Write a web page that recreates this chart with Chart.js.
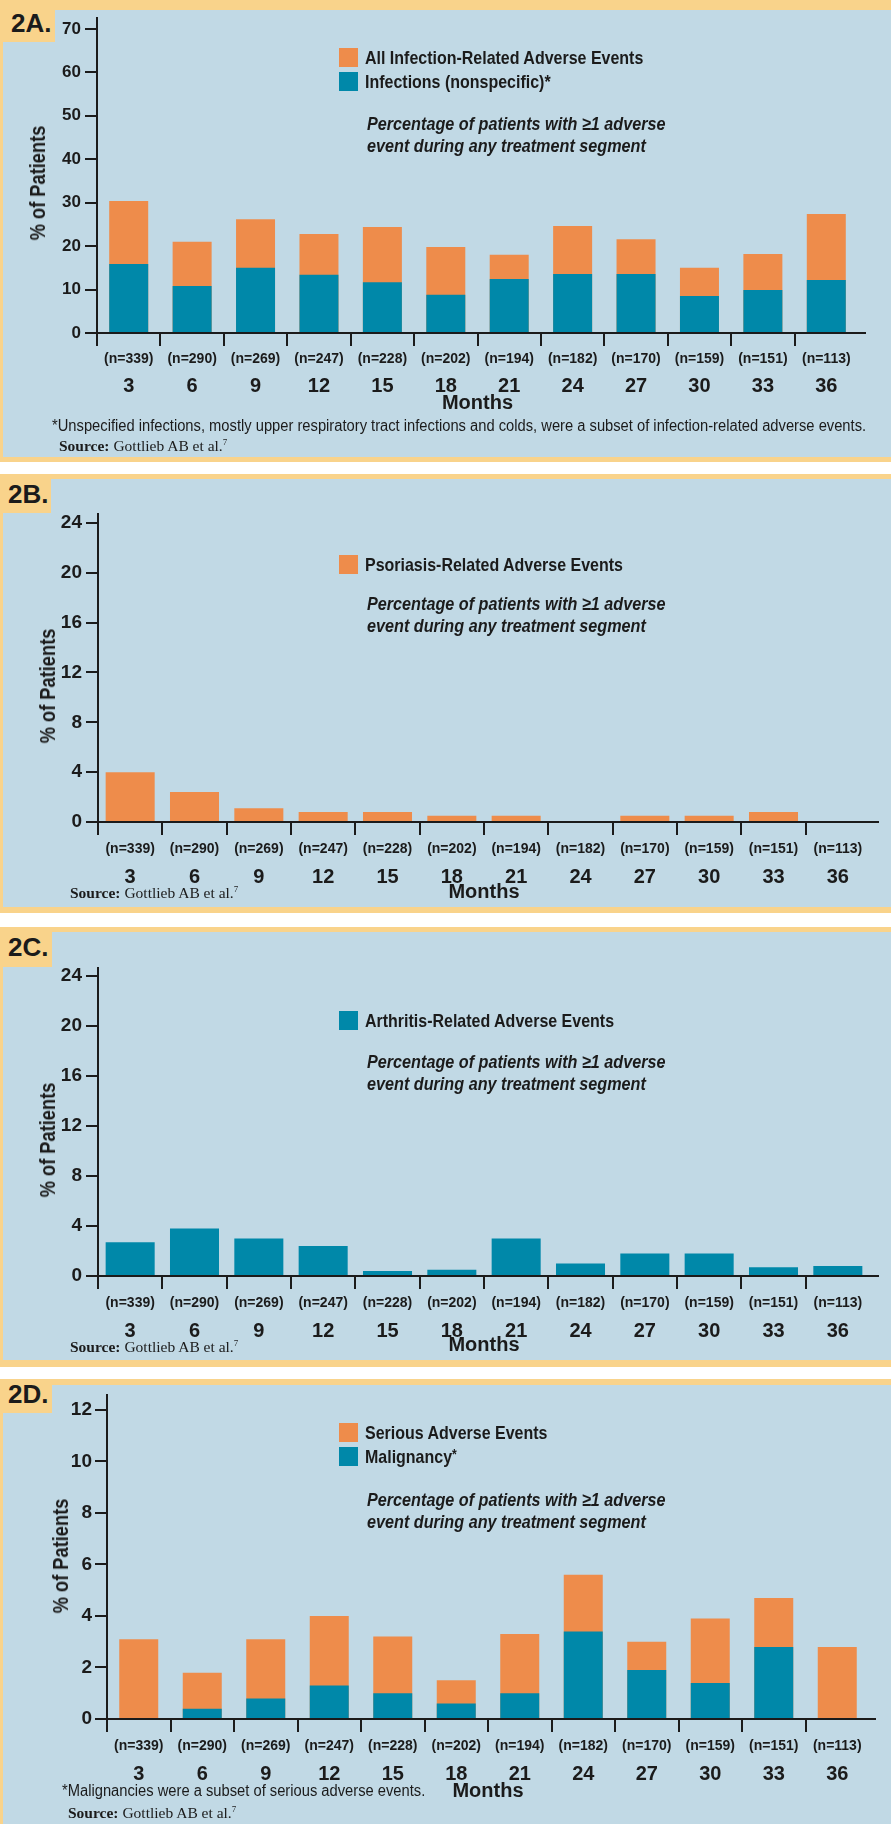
<!DOCTYPE html>
<html>
<head>
<meta charset="utf-8">
<script src="https://cdn.jsdelivr.net/npm/chart.js@4.4.1/dist/chart.umd.min.js"></script>
<style>
  body { margin: 0; width: 891px; height: 1824px; background: #fff; position: relative; overflow: hidden;
         font-family: "Liberation Sans", Arial, sans-serif; color: #1b1b1b; }
  .panel { position: absolute; left: 0; width: 891px; background: #f9d38b; }
  .panel .bg { position: absolute; left: 3px; right: 0; background: #c1d9e5; }
  .panel .tag { position: absolute; left: 0; top: 0; background: #f9d38b; }
  .panel canvas { position: absolute; left: 0; top: 0; }
  .txt { position: absolute; white-space: nowrap; line-height: 1; transform-origin: 0 50%; transform: translateY(-50%); }
  .tagtxt { font-weight: bold; font-size: 26px; }
  .swatch { position: absolute; width: 19px; height: 19px; }
  .legend { font-weight: bold; font-size: 18.5px; transform: translateY(-50%) scaleX(0.864); }
  .legend sup { font-size: 14px; vertical-align: 4px; line-height: 0; }
  .note { font-weight: bold; font-style: italic; font-size: 18.5px; transform: translateY(-50%) scaleX(0.875); }
  .ytitle { position: absolute; white-space: nowrap; font-weight: bold; font-size: 22px; line-height: 1;
            transform: translate(-50%, -50%) rotate(-90deg) scaleX(0.83); }
  .foot { font-size: 16px; transform: translateY(-50%) scaleX(0.92); }
  .source { font-family: "Liberation Serif", "DejaVu Serif", serif; font-size: 15.5px; }
  .source b { font-weight: bold; }
  .source sup { font-size: 9px; vertical-align: 6px; }
</style>
</head>
<body>
<script>
const months = ['3', '6', '9', '12', '15', '18', '21', '24', '27', '30', '33', '36'];
const patientCounts = [339, 290, 269, 247, 228, 202, 194, 182, 170, 159, 151, 113];

// 2A: infections (% of patients)
const allInfections = [30.4, 21.0, 26.2, 22.8, 24.4, 19.8, 18.0, 24.6, 21.6, 15.0, 18.2, 27.4];
const nonspecificInfections = [15.9, 10.8, 15.0, 13.4, 11.7, 8.8, 12.4, 13.6, 13.6, 8.5, 9.9, 12.2];
// 2B: psoriasis
const psoriasisEvents = [4.0, 2.4, 1.1, 0.8, 0.8, 0.5, 0.5, 0, 0.5, 0.5, 0.8, 0];
// 2C: arthritis
const arthritisEvents = [2.7, 3.8, 3.0, 2.4, 0.4, 0.5, 3.0, 1.0, 1.8, 1.8, 0.7, 0.8];
// 2D: serious events and malignancy
const seriousEvents = [3.1, 1.8, 3.1, 4.0, 3.2, 1.5, 3.3, 5.6, 3.0, 3.9, 4.7, 2.8];
const malignancies = [0, 0.4, 0.8, 1.3, 1.0, 0.6, 1.0, 3.4, 1.9, 1.4, 2.8, 0];

const ticksA = [0, 10, 20, 30, 40, 50, 60, 70];
const ticksB = [0, 4, 8, 12, 16, 20, 24];
const ticksC = [0, 4, 8, 12, 16, 20, 24];
const ticksD = [0, 2, 4, 6, 8, 10, 12];

const ORANGE = '#ee8c4b';
const TEAL = '#0088a9';
const INK = '#1b1b1b';
const SANS = '"Liberation Sans", Arial, sans-serif';

const nLabels = patientCounts.map(n => `(n=${n})`);
const NOTE = ['Percentage of patients with \u22651 adverse', 'event during any treatment segment'];

// x axis drawn along zero, running a few pixels past the last bar
const baseline = {
    id: 'baseline',
    afterDatasetsDraw(chart, args, opts) {
        const { ctx, chartArea, scales } = chart;
        const y = scales.y.getPixelForValue(0);
        ctx.save();
        ctx.strokeStyle = INK;
        ctx.lineWidth = 2;
        ctx.beginPath();
        ctx.moveTo(chartArea.left - 1, y);
        ctx.lineTo(chartArea.right + opts.overhang, y);
        ctx.stroke();
        ctx.restore();
    }
};

function el(parent, cls, html, style) {
    const d = document.createElement('div');
    if (cls) d.className = cls;
    if (html) d.innerHTML = html;
    Object.assign(d.style, style || {});
    parent.appendChild(d);
    return d;
}

function buildPanel(p) {
    const panel = el(document.body, 'panel', '', { top: p.top + 'px', height: p.height + 'px' });
    el(panel, 'bg', '', { top: p.borderTop + 'px', bottom: p.borderBottom + 'px' });
    el(panel, 'tag', '', { width: p.tagW + 'px', height: p.tagH + 'px' });
    el(panel, 'txt tagtxt', p.tag, { left: p.tagX + 'px', top: p.tagY + 'px' });

    const canvas = document.createElement('canvas');
    canvas.width = 891;
    canvas.height = p.height;
    panel.appendChild(canvas);

    // legend squares and labels
    p.series.forEach((s, i) => {
        const y = p.legendY + i * 24;
        el(panel, 'swatch', '', { left: '339px', top: y + 'px', background: s.color });
        el(panel, 'txt legend', s.html || s.label, { left: '365px', top: (y + 10) + 'px' });
    });
    NOTE.forEach((line, i) => {
        el(panel, 'txt note', line, { left: '367px', top: (p.noteY + i * 22) + 'px' });
    });
    el(panel, 'ytitle', '% of Patients', { left: p.titleX + 'px', top: p.titleY + 'px' });
    if (p.footnote) {
        el(panel, 'txt foot', p.footnote, { left: p.footX + 'px', top: p.footY + 'px' });
    }
    el(panel, 'txt source', '<b>Source:</b> Gottlieb AB et al.<sup>7</sup>', { left: p.srcX + 'px', top: p.srcY + 'px' });

    const datasets = p.series.map((s, i) => ({
        label: s.label,
        data: s.data,
        backgroundColor: s.color,
        borderWidth: 0,
        grouped: false,
        order: p.series.length - 1 - i,
        barPercentage: p.bar,
        categoryPercentage: 1,
        xAxisID: 'x',
        yAxisID: 'y'
    }));

    return new Chart(canvas, {
        type: 'bar',
        data: { labels: months, datasets: datasets },
        plugins: [baseline],
        options: {
            responsive: false,
            animation: false,
            events: [],
            layout: { padding: { left: 0, top: p.padTop, right: p.padRight, bottom: p.padBottom } },
            plugins: {
                legend: { display: false },
                tooltip: { enabled: false },
                baseline: { overhang: p.overhang }
            },
            scales: {
                x: {
                    type: 'category',
                    position: 'bottom',
                    labels: nLabels,
                    offset: true,
                    weight: 0,
                    grid: {
                        offset: true,
                        drawOnChartArea: false,
                        drawTicks: true,
                        tickLength: 13,
                        lineWidth: 2,
                        color: c => (c.tick ? INK : 'rgba(0,0,0,0)')
                    },
                    border: { display: false },
                    ticks: {
                        color: INK,
                        padding: p.nPad,
                        maxRotation: 0,
                        autoSkip: false,
                        font: { family: SANS, size: 14, weight: 'bold', lineHeight: 1.2 }
                    },
                    afterFit: s => { s.height = p.nHeight; }
                },
                xm: {
                    type: 'category',
                    axis: 'x',
                    position: 'bottom',
                    labels: months,
                    offset: true,
                    weight: 1,
                    grid: { display: false },
                    border: { display: false },
                    ticks: {
                        color: INK,
                        padding: 0,
                        maxRotation: 0,
                        autoSkip: false,
                        font: { family: SANS, size: 20, weight: 'bold', lineHeight: 1.2 }
                    },
                    title: {
                        display: true,
                        text: 'Months',
                        color: INK,
                        padding: 0,
                        font: { family: SANS, size: 20, weight: 'bold', lineHeight: 1.2 }
                    },
                    afterFit: s => { s.height = p.mHeight; }
                },
                y: {
                    position: 'left',
                    min: 0,
                    max: p.yMax,
                    afterBuildTicks: s => { s.ticks = p.yTicks.map(v => ({ value: v })); },
                    grid: { drawOnChartArea: false, drawTicks: true, tickLength: 12, lineWidth: 2, color: INK },
                    border: { display: true, color: INK, width: 2 },
                    ticks: {
                        color: INK,
                        padding: p.yPad,
                        font: { family: SANS, size: p.yFont, weight: 'bold', lineHeight: 1.2 }
                    },
                    afterFit: s => { s.width = p.yWidth; }
                }
            }
        }
    });
}

buildPanel({
    tag: '2A.', top: 0, height: 462, borderTop: 10, borderBottom: 5, tagW: 55, tagH: 42, tagX: 11, tagY: 23,
    series: [
        { label: 'All Infection-Related Adverse Events', data: allInfections, color: ORANGE },
        { label: 'Infections (nonspecific)*', data: nonspecificInfections, color: TEAL }
    ],
    legendY: 48, noteY: 124, titleX: 38, titleY: 183,
    footnote: '*Unspecified infections, mostly upper respiratory tract infections and colds, were a subset of infection-related adverse events.',
    footX: 52, footY: 426, srcX: 59, srcY: 446,
    yTicks: ticksA, yMax: 72.5, yWidth: 97, yPad: 4, yFont: 17,
    padTop: 18, padRight: 33, padBottom: 47, nHeight: 33, mHeight: 49, nPad: 5, overhang: 8, bar: 0.615
});

buildPanel({
    tag: '2B.', top: 474, height: 439, borderTop: 5, borderBottom: 6, tagW: 51, tagH: 39, tagX: 8, tagY: 20,
    series: [
        { label: 'Psoriasis-Related Adverse Events', data: psoriasisEvents, color: ORANGE }
    ],
    legendY: 81, noteY: 130, titleX: 48, titleY: 212,
    srcX: 70, srcY: 419,
    yTicks: ticksB, yMax: 24.72, yWidth: 98, yPad: 4, yFont: 19,
    padTop: 40, padRight: 21, padBottom: 9, nHeight: 35, mHeight: 47, nPad: 6, overhang: 9, bar: 0.762
});

buildPanel({
    tag: '2C.', top: 927, height: 440, borderTop: 5, borderBottom: 7, tagW: 52, tagH: 40, tagX: 8, tagY: 20,
    series: [
        { label: 'Arthritis-Related Adverse Events', data: arthritisEvents, color: TEAL }
    ],
    legendY: 84, noteY: 135, titleX: 48, titleY: 213,
    srcX: 70, srcY: 420,
    yTicks: ticksC, yMax: 24.64, yWidth: 98, yPad: 4, yFont: 19,
    padTop: 41, padRight: 21, padBottom: 10, nHeight: 35, mHeight: 46, nPad: 6, overhang: 9, bar: 0.762
});

buildPanel({
    tag: '2D.', top: 1379, height: 445, borderTop: 6, borderBottom: 0, tagW: 52, tagH: 34, tagX: 8, tagY: 15,
    series: [
        { label: 'Serious Adverse Events', data: seriousEvents, color: ORANGE },
        { label: 'Malignancy*', html: 'Malignancy<sup>*</sup>', data: malignancies, color: TEAL }
    ],
    legendY: 44, noteY: 121, titleX: 61, titleY: 177,
    footnote: '*Malignancies were a subset of serious adverse events.',
    footX: 62, footY: 412, srcX: 68, srcY: 434,
    yTicks: ticksD, yMax: 12.58, yWidth: 107, yPad: 3, yFont: 19,
    padTop: 16, padRight: 22, padBottom: 21, nHeight: 35, mHeight: 49, nPad: 6, overhang: 7, bar: 0.614
});
</script>
</body>
</html>
